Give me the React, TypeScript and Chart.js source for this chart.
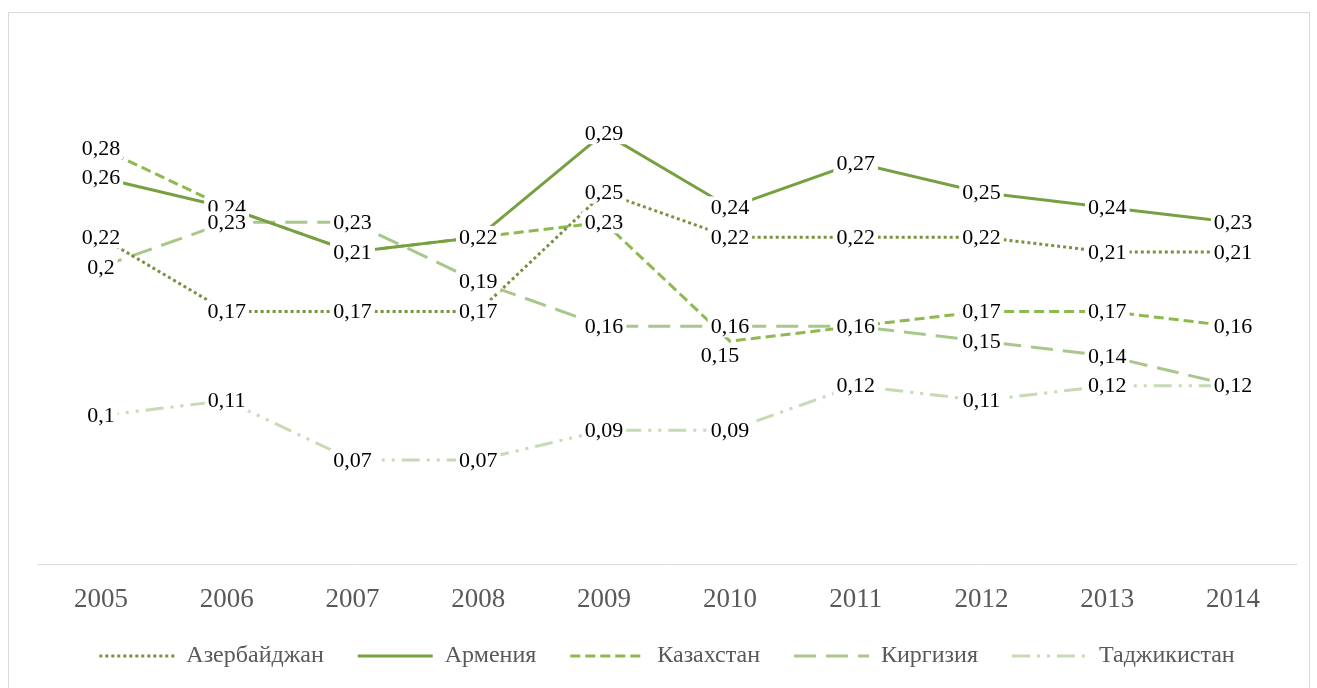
import React, { useEffect, useRef } from "react";
import { Chart, registerables } from "chart.js";

Chart.register(...registerables);

const years = ["2005", "2006", "2007", "2008", "2009", "2010", "2011", "2012", "2013", "2014"];
const azerbaijan = [0.22, 0.17, 0.17, 0.17, 0.25, 0.22, 0.22, 0.22, 0.21, 0.21];
const armenia = [0.26, 0.24, 0.21, 0.22, 0.29, 0.24, 0.27, 0.25, 0.24, 0.23];
const kazakhstan = [0.28, 0.24, 0.21, 0.22, 0.23, 0.15, 0.16, 0.17, 0.17, 0.16];
const kyrgyzstan = [0.2, 0.23, 0.23, 0.19, 0.16, 0.16, 0.16, 0.15, 0.14, 0.12];
const tajikistan = [0.1, 0.11, 0.07, 0.07, 0.09, 0.09, 0.12, 0.11, 0.12, 0.12];

const FONT = "'Liberation Serif', 'DejaVu Serif', serif";

// label nudges (pixel offsets from the point) for labels moved by hand in the original
const labelNudges: Record<string, [number, number]> = { "Казахстан|2010": [-10, 14] };

const labelPlugin = {
  id: "valueLabels",
  afterDatasetsDraw(chart: any) {
    const ctx = chart.ctx;
    ctx.save();
    ctx.font = `22px ${FONT}`;
    ctx.textAlign = "center";
    ctx.textBaseline = "middle";
    chart.data.datasets.forEach((ds: any, i: number) => {
      const meta = chart.getDatasetMeta(i);
      meta.data.forEach((pt: any, j: number) => {
        const text = String(ds.data[j]).replace(".", ",");
        const nudge = labelNudges[`${ds.label}|${chart.data.labels[j]}`] || [0, 0];
        const x = pt.x + nudge[0];
        const y = pt.y + nudge[1];
        const w = ctx.measureText(text).width;
        ctx.fillStyle = "#ffffff";
        ctx.fillRect(x - w / 2 - 3, y - 11, w + 6, 22);
        ctx.fillStyle = "#000000";
        ctx.fillText(text, x, y + 1);
      });
    });
    ctx.restore();
  },
};

export default function App() {
  const ref = useRef<HTMLCanvasElement>(null);
  useEffect(() => {
    if (!ref.current) return;
    const mk = (label: string, data: number[], color: string, dash: number[]) => ({
      label,
      data,
      borderColor: color,
      backgroundColor: color,
      borderWidth: 3,
      borderDash: dash,
      pointRadius: 0,
      tension: 0,
      fill: false,
    });
    const chart = new Chart(ref.current, {
      type: "line",
      data: {
        labels: years,
        datasets: [
          mk("Азербайджан", azerbaijan, "#77933C", [3, 3]),
          mk("Армения", armenia, "#77A040", []),
          mk("Казахстан", kazakhstan, "#8EB94F", [10, 5]),
          mk("Киргизия", kyrgyzstan, "#A8C88A", [22, 10]),
          mk("Таджикистан", tajikistan, "#C6DAB3", [18, 7, 3, 7, 3, 7]),
        ],
      },
      options: {
        animation: false,
        responsive: true,
        maintainAspectRatio: false,
        layout: { padding: { left: 29, right: 13, top: 31, bottom: 13 } },
        plugins: {
          legend: {
            position: "bottom",
            labels: {
              usePointStyle: true,
              pointStyle: "line",
              pointStyleWidth: 75,
              padding: 34,
              color: "#595959",
              font: { family: FONT, size: 24 },
              generateLabels: (c: any) => {
                const items = (Chart.defaults as any).plugins.legend.labels.generateLabels(c);
                items.forEach((it: any, i: number) => {
                  const ds = c.data.datasets[i];
                  it.lineDash = ds.borderDash;
                  it.lineWidth = 3;
                  it.strokeStyle = ds.borderColor;
                  it.pointStyle = "line";
                });
                return items;
              },
            },
          },
          tooltip: { enabled: false },
        },
        scales: {
          x: {
            offset: true,
            grid: { display: false },
            border: { display: true, color: "#d9d9d9", width: 1 },
            ticks: { color: "#595959", font: { family: FONT, size: 27 }, padding: 12 },
            afterFit: (s: any) => {
              s.height = 46;
            },
          },
          y: { display: false, min: 0, max: 0.35 },
        },
      },
      plugins: [labelPlugin],
    });
    return () => chart.destroy();
  }, []);
  return (
    <div
      style={{
        position: "fixed",
        left: 8,
        top: 12,
        width: 1302,
        height: 680,
        border: "1px solid #d9d9d9",
        background: "#fff",
        boxSizing: "border-box",
      }}
    >
      <canvas ref={ref} />
    </div>
  );
}
